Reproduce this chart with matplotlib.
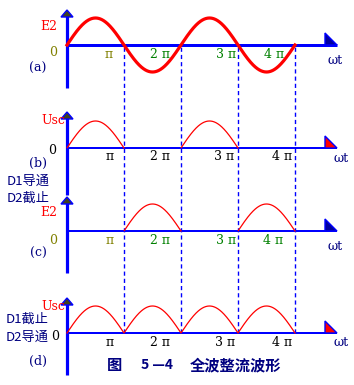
import numpy as np
import matplotlib
matplotlib.use("Agg")
import matplotlib.pyplot as plt
from matplotlib.patches import Polygon

plt.rcParams["font.family"] = ["Noto Sans CJK SC", "DejaVu Sans"]

W, H = 354, 385
# layout: pixel position of phase 0 and pixels per pi, pixels per unit amplitude
X0, PPI, PAMP = 67, 57.0, 27.0

# waveform data (phase in units of pi)
phase = np.linspace(0, 4, 801)
e2 = np.sin(np.pi * phase)
half_b = np.where(e2 > 0, e2, np.nan)      # D1 conducting
half_c = np.where(e2 < 0, -e2, np.nan)     # D2 conducting
full_d = np.abs(e2)
tick_k = [1, 2, 3, 4]

# panel baselines / axis extents in pixels (layout)
panels = [
    dict(base=45, top=10, bot=88, tip="navy", xlw=3),
    dict(base=148, top=112, bot=195, tip="red", xlw=2),
    dict(base=231, top=197, bot=273, tip="navy", xlw=2),
    dict(base=333, top=298, bot=375, tip="red", xlw=2),
]

BLUE = "#0000FF"
NAVY = "#000080"
RED = "#FF0000"
OLIVE = "#808000"
GREEN = "#008000"


def yd(py):
    return (H - py) / PAMP


def xd(px):
    return (px - X0) / PPI


fig = plt.figure(figsize=(W / 100, H / 100), dpi=100)
ax = fig.add_axes([0, 0, 1, 1])
ax.set_xlim(xd(0), xd(W))
ax.set_ylim(0, H / PAMP)
ax.axis("off")

# dashed guides
ax.vlines(tick_k, yd(panels[3]["base"]), yd(panels[0]["base"]),
          colors=BLUE, linestyles=(0, (3, 2.2)), lw=1.0, zorder=1)

for i, p in enumerate(panels):
    b = yd(p["base"])
    # y axis
    ax.plot([0, 0], [yd(p["bot"]), yd(p["top"] + 6)], color=BLUE, lw=2.3,
            solid_capstyle="butt", zorder=3)
    ax.add_patch(Polygon([[xd(X0 - 6), yd(p["top"] + 7)], [xd(X0 + 6), yd(p["top"] + 7)],
                          [0, yd(p["top"])]], closed=True, fc="#404020",
                         ec=BLUE, lw=1.0, zorder=4))
    # x axis
    ax.plot([0, xd(337)], [b, b], color=BLUE, lw=p["xlw"] * 0.72,
            solid_capstyle="butt", zorder=3)
    ax.add_patch(Polygon([[xd(325), b], [xd(337), b], [xd(325), b + 12 / PAMP]],
                         closed=True, fc=RED if p["tip"] == "red" else "#0000A0",
                         ec=BLUE, lw=1.0, zorder=4))

ax.plot(phase, yd(panels[0]["base"]) + e2, color=RED, lw=2.3, zorder=5)
ax.plot(phase, yd(panels[1]["base"]) + half_b, color=RED, lw=0.9, zorder=5)
ax.plot(phase, yd(panels[2]["base"]) + half_c, color=RED, lw=0.9, zorder=5)
ax.plot(phase, yd(panels[3]["base"]) + full_d, color=RED, lw=0.9, zorder=5)


def txt(px, py, s, color, size=9, serif=True, **kw):
    fam = ["DejaVu Serif", "Noto Sans CJK SC"] if serif else ["Noto Sans CJK SC", "DejaVu Sans"]
    fig.text(px / W, 1 - py / H, s, color=color, fontsize=size, family=fam,
             ha="center", va="center", **kw)


# (a)
txt(49, 27, "E2", RED)
txt(53, 53, "0", OLIVE)
txt(38, 68, "(a)", NAVY)
txt(109, 55, "π", OLIVE)
txt(160, 55, "2 π", GREEN)
txt(226, 55, "3 π", GREEN)
txt(274, 55, "4 π", GREEN)
txt(335, 61, "ωt", NAVY)
# (b)
txt(53, 121, "Usc", RED)
txt(52, 151, "0", "black")
txt(38, 163, "(b)", NAVY)
txt(28, 181, "D1导通", NAVY, size=9.5, serif=False)
txt(110, 157, "π", "black")
txt(160, 157, "2 π", "black")
txt(224, 157, "3 π", "black")
txt(282, 157, "4 π", "black")
txt(341, 158, "ωt", NAVY)
# (c)
txt(28, 198, "D2截止", NAVY, size=9.5, serif=False)
txt(49, 213, "E2", RED)
txt(53, 240, "0", OLIVE)
txt(38, 253, "(c)", NAVY)
txt(110, 240, "π", OLIVE)
txt(160, 240, "2 π", GREEN)
txt(226, 241, "3 π", GREEN)
txt(273, 241, "4 π", GREEN)
txt(335, 247, "ωt", NAVY)
# (d)
txt(53, 307, "Usc", RED)
txt(27, 319, "D1截止", NAVY, size=9.5, serif=False)
txt(27, 337, "D2导通", NAVY, size=9.5, serif=False)
txt(55, 337, "0", "black")
txt(38, 361, "(d)", NAVY)
txt(110, 343, "π", "black")
txt(160, 343, "2 π", "black")
txt(225, 343, "3 π", "black")
txt(282, 343, "4 π", "black")
txt(341, 343, "ωt", NAVY)
# caption
txt(115, 365, "图", NAVY, size=11, serif=False, weight="bold")
txt(157, 365, "5 —4", NAVY, size=10, serif=False, weight="bold")
txt(235, 365, "全波整流波形", NAVY, size=11, serif=False, weight="bold")

fig.savefig("out.png", dpi=100)
